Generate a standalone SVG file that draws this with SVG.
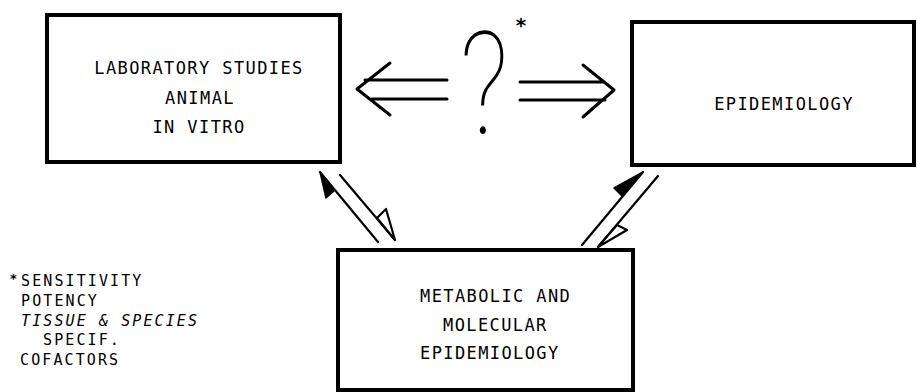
<svg xmlns="http://www.w3.org/2000/svg" width="917" height="392" viewBox="0 0 917 392">
<style>
.box{fill:#fff;stroke:#000;stroke-width:4}
.lbl{font-family:"DejaVu Sans Mono","Liberation Mono",monospace;font-size:17px;letter-spacing:1.4px;fill:#000}
.fn{font-size:15px;letter-spacing:2.1px}
.ln{fill:none;stroke:#000;stroke-width:3;stroke-linecap:round;stroke-linejoin:round}
.dl{fill:none;stroke:#000;stroke-width:2.2;stroke-linecap:round}
.oh{fill:#fff;stroke:#000;stroke-width:2.2;stroke-linejoin:round}
.fh{fill:#000;stroke:#000;stroke-width:1.5;stroke-linejoin:round}
</style>
<rect width="917" height="392" fill="#fff"/>
<g id="lab">
<rect class="box" x="47" y="15" width="293" height="147"/>
<text class="lbl" text-anchor="middle" x="199" y="74">LABORATORY STUDIES</text>
<text class="lbl" text-anchor="middle" x="200" y="104">ANIMAL</text>
<text class="lbl" text-anchor="middle" x="199" y="133">IN VITRO</text>
</g>
<g id="epi">
<rect class="box" x="632" y="22" width="282" height="143"/>
<text class="lbl" text-anchor="middle" x="784" y="110">EPIDEMIOLOGY</text>
</g>
<g id="meta">
<rect class="box" x="338" y="250" width="295" height="140"/>
<text class="lbl" x="420" y="302">METABOLIC AND</text>
<text class="lbl" x="443" y="331">MOLECULAR</text>
<text class="lbl" x="420" y="359">EPIDEMIOLOGY</text>
</g>
<g id="question">
<text x="0" y="0" transform="translate(484,134) scale(1,1.28)" text-anchor="middle" font-family="Roboto,'DejaVu Sans',sans-serif" font-weight="100" font-size="112" fill="#000">?</text>
<text x="521" y="32" text-anchor="middle" font-family="'DejaVu Sans',sans-serif" font-weight="bold" font-size="20" fill="#000">*</text>
</g>
<g id="connectors">
<path class="ln" d="M365,80 H447 M372,99 H447 M390,63 L357,89 L390,115"/>
<path class="ln" d="M520,82 H603 M520,100 H605 M583,65 L614,90 L583,117"/>
<path class="dl" d="M378,242 L320,172"/>
<path class="fh" d="M320,172 L326,198 L334,191 Z"/>
<path class="dl" d="M340,175 L395,240"/>
<path class="oh" d="M395,240 L386,209 L377,218 Z"/>
<path class="dl" d="M582,245 L643,172"/>
<path class="fh" d="M643,172 L614,188 L622,196 Z"/>
<path class="dl" d="M658,176 L598,247"/>
<path class="oh" d="M598,247 L627,230 L617,225 Z"/>
</g>
<g id="footnote">
<text x="10" y="283" font-family="'DejaVu Sans',sans-serif" font-weight="bold" font-size="13" fill="#000">*</text>
<text class="lbl fn" x="21" y="286">SENSITIVITY</text>
<text class="lbl fn" x="21" y="306">POTENCY</text>
<text class="lbl fn" x="21" y="326" font-style="italic">TISSUE &amp; SPECIES</text>
<text class="lbl fn" x="43" y="345">SPECIF.</text>
<text class="lbl fn" x="20" y="365">COFACTORS</text>
</g>
</svg>
